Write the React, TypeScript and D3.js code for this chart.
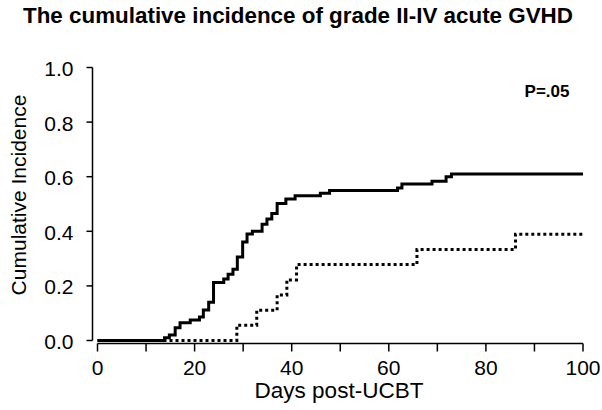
import React from "react";
import * as d3 from "d3";

const title = "The cumulative incidence of grade II-IV acute GVHD";
const xLabel = "Days post-UCBT";
const yLabel = "Cumulative Incidence";
const pLabel = "P=.05";

const xTicks = [0, 10, 20, 30, 40, 50, 60, 70, 80, 90, 100];
const xTickLabels = [0, 20, 40, 60, 80, 100];
const yTicks = [0, 0.2, 0.4, 0.6, 0.8, 1.0];

// Solid curve (group 1)
const solidDays = [0, 13.8, 14.8, 16, 17, 19.1, 21, 21.8, 22.9, 23.9, 26, 26.9, 27.9, 28.8, 29.9, 30.8, 31.9, 33.9, 34.9, 35.9, 37, 38.8, 40.7, 45.9, 47.8, 61.8, 62.7, 68.9, 71.8, 72.9, 100];
const solidValues = [0, 0.01, 0.02, 0.047, 0.065, 0.075, 0.086, 0.112, 0.14, 0.212, 0.225, 0.243, 0.261, 0.306, 0.361, 0.39, 0.4, 0.426, 0.445, 0.465, 0.502, 0.518, 0.53, 0.539, 0.549, 0.559, 0.573, 0.583, 0.6, 0.61, 0.61];

// Dotted curve (group 2)
const dottedDays = [0, 28.7, 32.8, 37, 39, 41, 65.8, 86.1, 100];
const dottedValues = [0, 0.056, 0.111, 0.167, 0.222, 0.278, 0.333, 0.389, 0.389];

const W = 602;
const H = 410;
const FONT = "'Liberation Sans', Arial, sans-serif";

export default function App() {
  const x = d3.scaleLinear().domain([0, 100]).range([97.5, 583]);
  const y = d3.scaleLinear().domain([0, 1]).range([340.5, 67.5]);

  const line = d3
    .line<[number, number]>()
    .x((d) => x(d[0]))
    .y((d) => y(d[1]))
    .curve(d3.curveStepAfter);

  const solidPts = solidDays.map((d, i) => [d, solidValues[i]] as [number, number]);
  const dottedPts = dottedDays.map((d, i) => [d, dottedValues[i]] as [number, number]);

  const yAxisX = 92.5;
  const xAxisY = 343.5;

  return (
    <svg
      width={W}
      height={H}
      style={{ position: "absolute", left: 0, top: 0, display: "block" }}
      fontFamily={FONT}
    >
      <rect x={0} y={0} width={W} height={H} fill="#ffffff" />
      <text x={298} y={23} textAnchor="middle" fontSize={22.4} fontWeight="bold" fill="#000">
        {title}
      </text>

      {/* y axis */}
      <line x1={yAxisX} x2={yAxisX} y1={y(0)} y2={y(1)} stroke="#000" strokeWidth={1.5} />
      {yTicks.map((t) => (
        <g key={"y" + t}>
          <line x1={yAxisX - 6} x2={yAxisX} y1={y(t)} y2={y(t)} stroke="#000" strokeWidth={1.5} />
          <text x={73.5} y={y(t) + 8.5} textAnchor="end" fontSize={21} fill="#000">
            {t.toFixed(1)}
          </text>
        </g>
      ))}

      {/* x axis */}
      <line x1={x(0)} x2={x(100)} y1={xAxisY} y2={xAxisY} stroke="#000" strokeWidth={1.5} />
      {xTicks.map((t) => (
        <line key={"x" + t} x1={x(t)} x2={x(t)} y1={xAxisY} y2={xAxisY + 8} stroke="#000" strokeWidth={1.5} />
      ))}
      {xTickLabels.map((t) => (
        <text key={"xl" + t} x={x(t)} y={375} textAnchor="middle" fontSize={21} fill="#000">
          {t}
        </text>
      ))}

      <text x={339} y={397.5} textAnchor="middle" fontSize={22.5} fill="#000">
        {xLabel}
      </text>
      <text
        transform={`translate(26,195) rotate(-90)`}
        textAnchor="middle"
        fontSize={21}
        fill="#000"
      >
        {yLabel}
      </text>

      <path d={line(dottedPts) || ""} fill="none" stroke="#000" strokeWidth={3} strokeDasharray="3 3" />
      <path d={line(solidPts) || ""} fill="none" stroke="#000" strokeWidth={3} />

      <text x={547} y={97} textAnchor="middle" fontSize={17} fontWeight="bold" fill="#000">
        {pLabel}
      </text>
    </svg>
  );
}
